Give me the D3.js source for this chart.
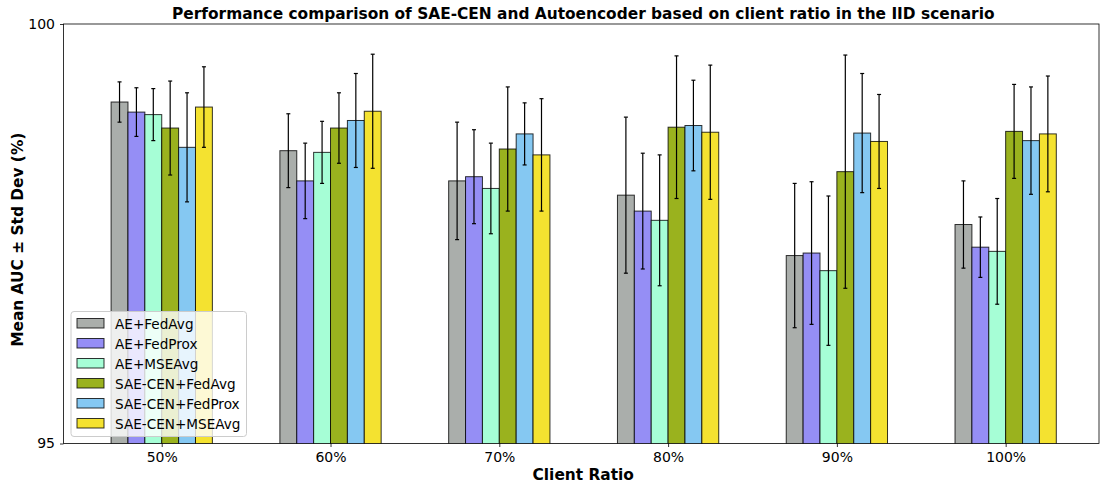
<!DOCTYPE html>
<html>
<head>
<meta charset="utf-8">
<script src="https://cdn.jsdelivr.net/npm/d3@7"></script>
<style>
  body { margin: 0; background: #fff; }
  text { font-family: "DejaVu Sans", sans-serif; }
</style>
</head>
<body>
<div id="chart"></div>
<script>
// chart data
var ratios = ["50%", "60%", "70%", "80%", "90%", "100%"];
var methods = ["AE+FedAvg", "AE+FedProx", "AE+MSEAvg", "SAE-CEN+FedAvg", "SAE-CEN+FedProx", "SAE-CEN+MSEAvg"];
var colors = ["#aaaeab", "#958ef5", "#a6fed6", "#9ab21e", "#85c8f2", "#f4e230"];

// mean AUC per method, one value per ratio
var aeFedAvg      = [99.07, 98.49, 98.13, 97.96, 97.24, 97.61];
var aeFedProx     = [98.95, 98.13, 98.18, 97.77, 97.27, 97.34];
var aeMseAvg      = [98.92, 98.47, 98.04, 97.66, 97.06, 97.29];
var saeFedAvg     = [98.76, 98.76, 98.51, 98.77, 98.24, 98.72];
var saeFedProx    = [98.53, 98.85, 98.69, 98.79, 98.70, 98.61];
var saeMseAvg     = [99.01, 98.96, 98.44, 98.71, 98.60, 98.69];

// std dev per method
var aeFedAvgStd   = [0.24, 0.44, 0.70, 0.93, 0.86, 0.52];
var aeFedProxStd  = [0.29, 0.45, 0.56, 0.69, 0.85, 0.36];
var aeMseAvgStd   = [0.31, 0.37, 0.54, 0.78, 0.89, 0.63];
var saeFedAvgStd  = [0.56, 0.42, 0.74, 0.85, 1.39, 0.56];
var saeFedProxStd = [0.65, 0.56, 0.37, 0.54, 0.71, 0.64];
var saeMseAvgStd  = [0.48, 0.68, 0.67, 0.80, 0.56, 0.69];

var yTicks = [95, 100];

var means = [aeFedAvg, aeFedProx, aeMseAvg, saeFedAvg, saeFedProx, saeMseAvg];
var stds = [aeFedAvgStd, aeFedProxStd, aeMseAvgStd, saeFedAvgStd, saeFedProxStd, saeMseAvgStd];

var W = 1100, H = 488;
var margin = {top: 24, right: 1, bottom: 44.5, left: 63.5};
var width = W - margin.left - margin.right,
    height = H - margin.top - margin.bottom;
var barW = 0.1;

var svg = d3.select("#chart").append("svg")
  .attr("width", W).attr("height", H);

var g = svg.append("g")
  .attr("transform", "translate(" + margin.left + "," + margin.top + ")");

// x is in group units, group i centred at i
var x = d3.scaleLinear().domain([-0.582, 5.553]).range([0, width]);
var y = d3.scaleLinear().domain([95, 100]).range([height, 0]);

// flatten to rows for drawing
var rows = [];
methods.forEach(function(m, j) {
  ratios.forEach(function(r, i) {
    rows.push({m: j, i: i, v: means[j][i], s: stds[j][i]});
  });
});

g.append("clipPath").attr("id", "clip")
  .append("rect").attr("width", width).attr("height", height);

var plot = g.append("g").attr("clip-path", "url(#clip)");

plot.selectAll("rect.bar")
  .data(rows)
  .enter()
  .append("rect")
  .attr("class", "bar")
  .attr("x", function(d) { return x(d.i + (d.m - 3) * barW); })
  .attr("width", function(d) { return x(barW) - x(0); })
  .attr("y", function(d) { return y(d.v); })
  .attr("height", function(d) { return height - y(d.v) + 2; })
  .attr("fill", function(d) { return colors[d.m]; })
  .attr("stroke", "#000")
  .attr("stroke-opacity", 0.8)
  .attr("stroke-width", 1);

// error bars
var err = g.selectAll("g.err")
  .data(rows)
  .enter()
  .append("g")
  .attr("class", "err")
  .attr("transform", function(d) { return "translate(" + x(d.i + (d.m - 2.5) * barW) + ",0)"; });

err.append("line")
  .attr("y1", function(d) { return y(d.v + d.s); })
  .attr("y2", function(d) { return y(d.v - d.s); })
  .attr("stroke", "#000").attr("stroke-width", 1.2);
err.append("line")
  .attr("x1", -2).attr("x2", 2)
  .attr("y1", function(d) { return y(d.v + d.s); })
  .attr("y2", function(d) { return y(d.v + d.s); })
  .attr("stroke", "#000").attr("stroke-width", 1.2);
err.append("line")
  .attr("x1", -2).attr("x2", 2)
  .attr("y1", function(d) { return y(d.v - d.s); })
  .attr("y2", function(d) { return y(d.v - d.s); })
  .attr("stroke", "#000").attr("stroke-width", 1.2);

// axes
var xAxis = g.append("g")
  .attr("transform", "translate(0," + height + ")")
  .call(d3.axisBottom(x).tickValues(d3.range(ratios.length))
    .tickFormat(function(d) { return ratios[d]; })
    .tickSize(3.5).tickPadding(5).tickSizeOuter(0));
var yAxis = g.append("g")
  .call(d3.axisLeft(y).tickValues(yTicks).tickFormat(d3.format("d"))
    .tickSize(3.5).tickPadding(5).tickSizeOuter(0));

[xAxis, yAxis].forEach(function(a) {
  a.selectAll("text").style("font-size", "14px").attr("fill", "#000")
    .style("font-family", "DejaVu Sans, sans-serif");
  a.selectAll("line").attr("stroke", "#000").attr("stroke-width", 0.8);
  a.select(".domain").attr("stroke", "none");
});

// spines
g.append("rect")
  .attr("width", width).attr("height", height)
  .attr("fill", "none").attr("stroke", "#000").attr("stroke-width", 0.8);

// labels
svg.append("text")
  .attr("x", margin.left + width / 2 + 2).attr("y", 19)
  .attr("text-anchor", "middle")
  .style("font-size", "15.4px").style("font-weight", "bold")
  .text("Performance comparison of SAE-CEN and Autoencoder based on client ratio in the IID scenario");

svg.append("text")
  .attr("x", margin.left + width / 2 + 2).attr("y", 480)
  .attr("text-anchor", "middle")
  .style("font-size", "15.4px").style("font-weight", "bold")
  .text("Client Ratio");

svg.append("text")
  .attr("transform", "translate(23," + (margin.top + height / 2 + 6) + ") rotate(-90)")
  .attr("text-anchor", "middle")
  .style("font-size", "15.4px").style("font-weight", "bold")
  .text("Mean AUC \u00b1 Std Dev (%)");

// legend
var leg = svg.append("g").attr("transform", "translate(71,311.5)");
leg.append("rect")
  .attr("width", 175.5).attr("height", 125)
  .attr("rx", 3)
  .attr("fill", "#fff").attr("fill-opacity", 0.8)
  .attr("stroke", "#ccc").attr("stroke-width", 1);

var items = leg.selectAll("g.item")
  .data(methods)
  .enter()
  .append("g")
  .attr("class", "item")
  .attr("transform", function(d, i) { return "translate(6," + (7 + i * 20) + ")"; });
items.append("rect")
  .attr("width", 27).attr("height", 9.5)
  .attr("fill", function(d, i) { return colors[i]; })
  .attr("stroke", "#000").attr("stroke-opacity", 0.8);
items.append("text")
  .attr("x", 38).attr("y", 10.5)
  .style("font-size", "13.6px")
  .text(function(d) { return d; });
</script>
</body>
</html>
